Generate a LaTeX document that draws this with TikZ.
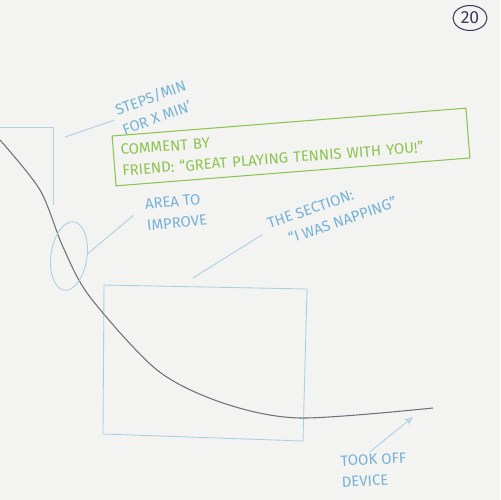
\documentclass[tikz,border=0pt]{standalone}
\usepackage{fontspec}
\setmainfont{Fira Sans}
\usetikzlibrary{shapes.geometric,arrows.meta}
\definecolor{pen}{RGB}{118,178,214}
\definecolor{penlight}{RGB}{170,208,228}
\definecolor{marker}{RGB}{140,196,78}
\definecolor{graphite}{RGB}{112,112,122}
\definecolor{ink}{RGB}{62,62,92}
\definecolor{paper}{RGB}{243,243,241}
\begin{document}
\begin{tikzpicture}[x=0.02cm,y=-0.02cm,
  mylab/.style={text=pen, font=\fontsize{8.5}{12}\selectfont, align=left, inner sep=1pt},
  myline/.style={draw=penlight, line width=0.5pt},
  mynote/.style={draw=marker, text=marker, line width=0.6pt, font=\fontsize{8.5}{12}\selectfont, align=left, text width=6.8cm, minimum width=7.1cm, minimum height=1cm}]
  \fill[paper] (0,0) rectangle (500,500);
  \useasboundingbox (0,0) rectangle (500,500);

  % page number
  \node[draw=ink, text=ink, ellipse, line width=0.6pt, inner sep=1pt, minimum width=0.68cm, minimum height=0.5cm] (page) at (470,18) {20};

  % boxes and the curve
  \draw[myline] (0,127) -- (53,127) -- (53,205);
  \draw[myline] (104,285) -- (307,289) -- (303,441) -- (103,434) -- cycle;
  \draw[graphite, line width=0.6pt] plot[smooth] coordinates {(0,140) (40,190) (63,247) (90,297) (157,370) (223,403) (300,418) (433,408)};
  \node[draw=penlight, ellipse, line width=0.5pt, minimum width=0.72cm, minimum height=1.38cm, rotate=-8] (spot) at (69,256) {};

  % labels
  \node[mylab, rotate=20] (steps) at (154,107) {STEPS/MIN\\FOR X MIN'};
  \node[mynote, rotate=4.5] (comment) at (291,147) {COMMENT BY\\FRIEND: “GREAT PLAYING TENNIS WITH YOU!”};
  \node[mylab, rotate=6] (area) at (176,212) {AREA TO\\IMPROVE};
  \node[mylab, rotate=19] (nap) at (332,213) {THE SECTION:\\\quad“I WAS NAPPING”};
  \node[mylab, rotate=3] (device) at (374,470) {TOOK OFF\\DEVICE};
  \coordinate (corner) at (65,137);
  \coordinate (napend) at (193,278);
  \coordinate (dip) at (413,417);

  % pointers
  \draw[myline] (corner) -- ([xshift=-2pt]steps.west);
  \draw[myline] (spot.15) -- ([xshift=-6pt]area.west);
  \draw[myline] (napend) -- ([xshift=-4pt]nap.west);
  \draw[myline, -{Stealth[open, length=5pt, width=4pt]}] ([xshift=-2pt]device.north) -- (dip);
\end{tikzpicture}
\end{document}
